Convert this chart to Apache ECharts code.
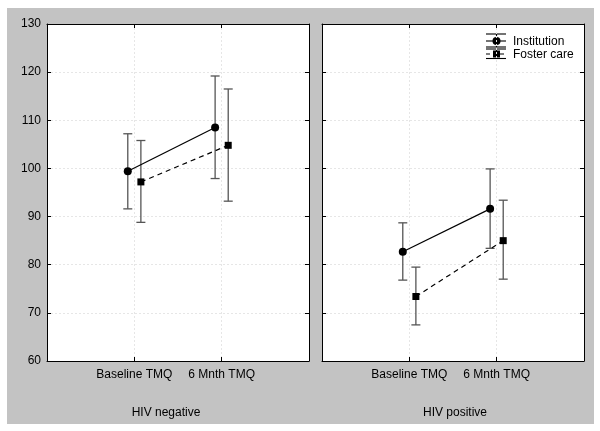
<!DOCTYPE html>
<html><head><meta charset="utf-8">
<script src="https://cdn.jsdelivr.net/npm/echarts@6/dist/echarts.min.js"></script>
<style>html,body{margin:0;padding:0;background:#fff}#c{width:600px;height:431px}</style>
</head><body><div id="c"></div>
<script>
const categories = ['Baseline TMQ', '6 Mnth TMQ'];
const panels = ['HIV negative', 'HIV positive'];
const groups = ['Institution', 'Foster care'];
const negInstMean = [99.4, 108.5];
const negInstUpper = [107.2, 119.2];
const negInstLower = [91.6, 97.9];
const negFosterMean = [97.2, 104.8];
const negFosterUpper = [105.8, 116.5];
const negFosterLower = [88.8, 93.2];
const posInstMean = [82.7, 91.6];
const posInstUpper = [88.7, 99.9];
const posInstLower = [76.8, 83.4];
const posFosterMean = [73.4, 85.0];
const posFosterUpper = [79.5, 93.4];
const posFosterLower = [67.5, 77.0];
const yMin = 60, yMax = 130, yStep = 10;

const FONT = 'Liberation Sans, Arial, sans-serif';
const OFF = 0.075;
const panelData = [
  { inst: [negInstMean, negInstLower, negInstUpper], fost: [negFosterMean, negFosterLower, negFosterUpper] },
  { inst: [posInstMean, posInstLower, posInstUpper], fost: [posFosterMean, posFosterLower, posFosterUpper] }
];
const gridLefts = [47, 322];
const grids = gridLefts.map(l => ({ left: l, top: 24, width: 262, height: 337, show: true, backgroundColor: '#fff', borderWidth: 0, containLabel: false }));

const xAxes = [], yAxes = [], series = [];
const axLine = { show: true, onZero: false, lineStyle: { color: '#000', width: 1 } };
const tick = { show: true, inside: true, length: 4, lineStyle: { color: '#000' } };
gridLefts.forEach((l, g) => {
  const splitLine = { show: true, showMinLine: false, showMaxLine: false, lineStyle: { color: '#e6e6e6', type: [2, 2], width: 1 } };
  xAxes.push({
    type: 'value', gridIndex: g, min: 0, max: 3, interval: 1, position: 'bottom',
    axisLine: axLine, axisTick: tick,
    axisLabel: { show: true, color: '#000', fontFamily: FONT, fontSize: 12, margin: 8, formatter: v => (v >= 1 && v <= 2 ? categories[v - 1] : '') },
    splitLine: splitLine
  });
  xAxes.push({
    type: 'value', gridIndex: g, min: 0, max: 3, interval: 1, position: 'top',
    axisLine: axLine, axisTick: tick,
    axisLabel: { show: false }, splitLine: { show: false }
  });
  yAxes.push({
    type: 'value', gridIndex: g, min: yMin, max: yMax, interval: yStep, position: 'left',
    axisLine: axLine, axisTick: tick,
    axisLabel: { show: g === 0, color: '#000', fontFamily: FONT, fontSize: 12, margin: 6 },
    splitLine: splitLine
  });
  yAxes.push({
    type: 'value', gridIndex: g, min: yMin, max: yMax, interval: yStep, position: 'right',
    axisLine: axLine, axisTick: tick,
    axisLabel: { show: false }, splitLine: { show: false }
  });
});

function errSeries(xi, yi, arr, off) {
  const [mean, lo, hi] = arr;
  return {
    type: 'custom', xAxisIndex: xi, yAxisIndex: yi, z: 2,
    data: mean.map((m, i) => [i + 1 + off, lo[i], hi[i]]),
    renderItem: function (params, api) {
      const x = api.value(0);
      const p1 = api.coord([x, api.value(1)]);
      const p2 = api.coord([x, api.value(2)]);
      const w = 4.5;
      const st = { stroke: '#555', lineWidth: 1.3, fill: null };
      return { type: 'group', children: [
        { type: 'line', shape: { x1: p1[0], y1: p1[1], x2: p2[0], y2: p2[1] }, style: st },
        { type: 'line', shape: { x1: p1[0] - w, y1: p1[1], x2: p1[0] + w, y2: p1[1] }, style: st },
        { type: 'line', shape: { x1: p2[0] - w, y1: p2[1], x2: p2[0] + w, y2: p2[1] }, style: st }
      ] };
    }
  };
}
panelData.forEach((pd, g) => {
  const xi = g * 2, yi = g * 2;
  series.push(errSeries(xi, yi, pd.inst, -OFF));
  series.push(errSeries(xi, yi, pd.fost, OFF));
  series.push({
    type: 'line', name: groups[0], xAxisIndex: xi, yAxisIndex: yi, z: 3,
    data: pd.inst[0].map((m, i) => [i + 1 - OFF, m]),
    symbol: 'circle', symbolSize: 8, itemStyle: { color: '#000' },
    lineStyle: { color: '#000', width: 1.2, type: 'solid' }, animation: false
  });
  series.push({
    type: 'line', name: groups[1], xAxisIndex: xi, yAxisIndex: yi, z: 3,
    data: pd.fost[0].map((m, i) => [i + 1 + OFF, m]),
    symbol: 'rect', symbolSize: 7, itemStyle: { color: '#000' },
    lineStyle: { color: '#000', width: 1.2, type: [5, 4] }, animation: false
  });
});

const lx1 = 486, lx2 = 506, lxc = 496.5;
function legendEntry(y, label, dashed, square, capTop, capBot) {
  const st = { stroke: '#000', lineWidth: 1.1 };
  const ch = [
    { type: 'line', shape: { x1: lx1, y1: capTop, x2: lx2, y2: capTop }, style: st },
    { type: 'line', shape: { x1: lx1, y1: capBot, x2: lx2, y2: capBot }, style: st },
    { type: 'line', shape: { x1: lxc, y1: capTop, x2: lxc, y2: capBot }, style: st },
    { type: 'line', shape: { x1: lx1, y1: y, x2: lx2, y2: y }, style: Object.assign({ lineDash: dashed ? [4, 3] : null }, st) },
    square ? { type: 'rect', shape: { x: lxc - 3.5, y: y - 3.5, width: 7, height: 7 }, style: { fill: '#000' } }
           : { type: 'circle', shape: { cx: lxc, cy: y, r: 4 }, style: { fill: '#000' } },
    { type: 'text', x: 513, y: y + 0.5, style: { text: label, fontFamily: FONT, fontSize: 12, fill: '#000', textVerticalAlign: 'middle', verticalAlign: 'middle' } }
  ];
  return ch;
}

const option = {
  backgroundColor: '#fff',
  animation: false,
  grid: grids,
  xAxis: xAxes,
  yAxis: yAxes,
  series: series,
  graphic: [
    { type: 'rect', z: -10, silent: true, shape: { x: 7, y: 8, width: 587, height: 416 }, style: { fill: '#c3c3c3' } },
    { type: 'text', x: 166, y: 413, style: { text: panels[0], fontFamily: FONT, fontSize: 12, fill: '#000', textAlign: 'center', textVerticalAlign: 'middle', align: 'center', verticalAlign: 'middle' } },
    { type: 'text', x: 455, y: 413, style: { text: panels[1], fontFamily: FONT, fontSize: 12, fill: '#000', textAlign: 'center', textVerticalAlign: 'middle', align: 'center', verticalAlign: 'middle' } },
    { type: 'group', z: 100, children: legendEntry(41, groups[0], false, false, 34, 47).concat(legendEntry(54, groups[1], true, true, 49, 58.5)) }
  ]
};
const chart = echarts.init(document.getElementById('c'), null, { renderer: 'canvas' });
chart.setOption(option);
</script>
</body></html>
